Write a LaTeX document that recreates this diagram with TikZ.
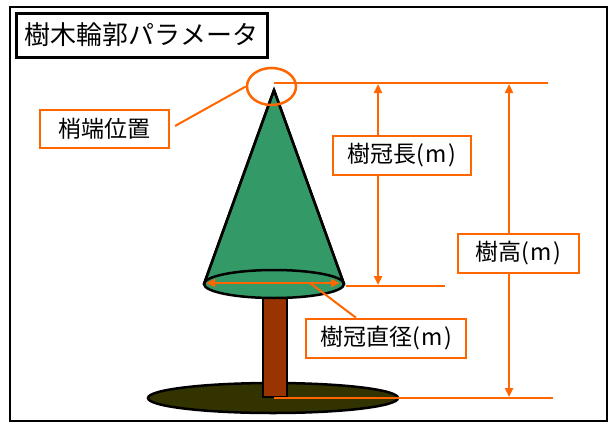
\documentclass[tikz,border=0pt]{standalone}
\usepackage{fontspec}
\newfontfamily\jp{Noto Sans CJK JP}
\usetikzlibrary{arrows.meta,shapes.geometric}
\definecolor{dimorange}{HTML}{FF6600}
\definecolor{crowngreen}{HTML}{339966}
\definecolor{trunkbrown}{HTML}{993300}
\definecolor{groundolive}{HTML}{333300}
\newcommand{\unitm}{(\kern1.5pt m\kern1.5pt)}
\tikzset{
  dimline/.style={draw=dimorange, line width=2.5pt},
  dimarrow/.style={dimline, {Triangle[length=9pt,width=8pt]}-{Triangle[length=9pt,width=8pt]}},
  labelbox/.style={draw=dimorange, line width=2.5pt, fill=white, inner sep=0pt, font=\jp\fontsize{23}{23}\selectfont},
  outline/.style={draw=black, line width=2.5pt},
}
\begin{document}
\begin{tikzpicture}[x=1pt, y=-1pt]
\useasboundingbox (0,0) rectangle (613,423);
% outer frame
\draw[line width=1.5pt] (10,7) rectangle (607,421);
% title
\node[draw=black, line width=3pt, minimum width=251pt, minimum height=44pt, inner sep=0pt,
      font=\jp\fontsize{26}{26}\selectfont] (title) at (141.5,35) {樹木輪郭パラメータ};

% ground
\path[outline, fill=groundolive] (273,398) ellipse [x radius=125, y radius=15];
% trunk
\path[outline, fill=trunkbrown] (263,283) rectangle (287,397);
% crown cone
\path[outline, fill=crowngreen, line join=round] (204,284) -- (274,90) -- (344,284) -- cycle;
\path[outline, fill=crowngreen] (274,284) ellipse [x radius=70, y radius=14];
\path[outline] (204,284) -- (274,90) -- (344,284);

% tip marker
\node[draw=dimorange, line width=2.5pt, ellipse, minimum width=49pt, minimum height=37pt, inner sep=0pt] (tip) at (271.5,86.5) {};

% reference lines
\coordinate (topL) at (274,83);
\coordinate (topR) at (548,83);
\coordinate (baseL) at (346,286);
\coordinate (baseR) at (445,286);
\coordinate (gndL) at (274,398);
\coordinate (gndR) at (553,398);
\draw[dimline] (topL) -- (topR);
\draw[dimline] (baseL) -- (baseR);
\draw[dimline] (gndL) -- (gndR);

% crown diameter arrow
\coordinate (dL) at (206,283);
\coordinate (dR) at (340,283);
\draw[dimarrow] (dL) -- (dR);

% crown length
\coordinate (clT) at (378,84);
\coordinate (clB) at (378,285);
\draw[dimarrow] (clT) -- (clB);
\node[labelbox, minimum width=138pt, minimum height=39pt] (cl) at (402,155.5) {樹冠長\unitm};

% tree height
\coordinate (thT) at (509,84);
\coordinate (thB) at (509,397);
\draw[dimarrow] (thT) -- (thB);
\node[labelbox, minimum width=121pt, minimum height=39pt] (th) at (518.5,253.5) {樹高\unitm};

% crown diameter label
\coordinate (dm) at (310,283);
\node[labelbox, minimum width=160pt, minimum height=39pt] (cd) at (386,338.5) {樹冠直径\unitm};
\draw[dimorange, line width=2pt] (dm) -- (cd.north -| 356,0);

% tip position label
\node[labelbox, minimum width=129pt, minimum height=38pt] (tp) at (104.5,129) {梢端位置};
\coordinate (tpEnd) at (175,126);
\draw[dimorange, line width=2pt] (tpEnd) -- (tip.west);
\end{tikzpicture}
\end{document}
